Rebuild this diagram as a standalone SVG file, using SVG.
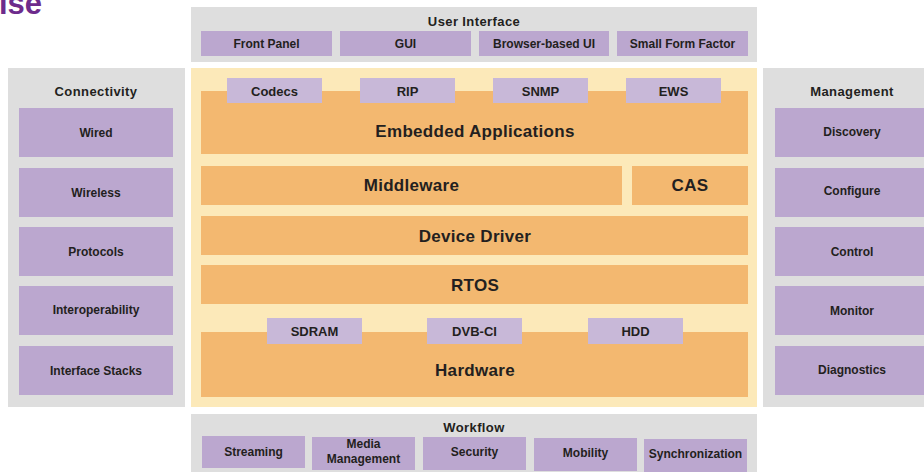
<svg xmlns="http://www.w3.org/2000/svg" width="924" height="472" viewBox="0 0 924 472">
<style>
text{font-family:"Liberation Sans",Arial,sans-serif;font-weight:bold;fill:#231f20;text-anchor:middle}
.panel{fill:#dedede}
.pb{fill:#bba7cf}
.pl{fill:#c8b8d8}
.or{fill:#f3b870}
.ye{fill:#fce9b9}
.h{font-size:13px;letter-spacing:0.4px}
.s{font-size:12px}
.m{font-size:13px}
.l{font-size:17px;letter-spacing:0.3px}
</style>
<text x="-1" y="14" style="font-size:31px;fill:#6d2b8c;text-anchor:start">ise</text>

<g id="user-interface">
<rect class="panel" x="191" y="7" width="566" height="55"/>
<text class="h" x="474" y="26">User Interface</text>
<g id="front-panel"><rect class="pb" x="201" y="31" width="131" height="25"/><text class="s" x="266.5" y="48">Front Panel</text></g>
<g id="gui"><rect class="pb" x="340" y="31" width="131" height="25"/><text class="s" x="405.5" y="48">GUI</text></g>
<g id="browser-ui"><rect class="pb" x="479" y="31" width="130" height="25"/><text class="s" x="544" y="48">Browser-based UI</text></g>
<g id="small-form-factor"><rect class="pb" x="617" y="31" width="131" height="25"/><text class="s" x="682.5" y="48">Small Form Factor</text></g>
</g>

<g id="core">
<rect class="ye" x="191" y="68" width="566" height="339"/>
<g id="embedded-applications"><rect class="or" x="201" y="91" width="547" height="63"/><text class="l" x="475" y="137">Embedded Applications</text></g>
<g id="codecs"><rect class="pl" x="227" y="78" width="95" height="25"/><text class="m" x="274.5" y="96">Codecs</text></g>
<g id="rip"><rect class="pl" x="360" y="78" width="95" height="25"/><text class="m" x="407.5" y="96">RIP</text></g>
<g id="snmp"><rect class="pl" x="493" y="78" width="95" height="25"/><text class="m" x="540.5" y="96">SNMP</text></g>
<g id="ews"><rect class="pl" x="626" y="78" width="95" height="25"/><text class="m" x="673.5" y="96">EWS</text></g>
<g id="middleware"><rect class="or" x="201" y="166" width="421" height="39"/><text class="l" x="411.5" y="191">Middleware</text></g>
<g id="cas"><rect class="or" x="632" y="166" width="116" height="39"/><text class="l" x="690" y="191">CAS</text></g>
<g id="device-driver"><rect class="or" x="201" y="216" width="547" height="39"/><text class="l" x="475" y="242">Device Driver</text></g>
<g id="rtos"><rect class="or" x="201" y="265" width="547" height="39"/><text class="l" x="475" y="291">RTOS</text></g>
<g id="hardware"><rect class="or" x="201" y="332" width="547" height="65"/><text class="l" x="475" y="376">Hardware</text></g>
<g id="sdram"><rect class="pl" x="267" y="318" width="95" height="26"/><text class="m" x="314.5" y="336">SDRAM</text></g>
<g id="dvb-ci"><rect class="pl" x="427" y="318" width="95" height="26"/><text class="m" x="474.5" y="336">DVB-CI</text></g>
<g id="hdd"><rect class="pl" x="588" y="318" width="95" height="26"/><text class="m" x="635.5" y="336">HDD</text></g>
</g>

<g id="connectivity">
<rect class="panel" x="8" y="68" width="177" height="339"/>
<text class="h" x="96" y="96">Connectivity</text>
<g id="wired"><rect class="pb" x="19" y="108" width="154" height="49"/><text class="s" x="96" y="137">Wired</text></g>
<g id="wireless"><rect class="pb" x="19" y="168" width="154" height="49"/><text class="s" x="96" y="197">Wireless</text></g>
<g id="protocols"><rect class="pb" x="19" y="227" width="154" height="49"/><text class="s" x="96" y="256">Protocols</text></g>
<g id="interoperability"><rect class="pb" x="19" y="286" width="154" height="49"/><text class="s" x="96" y="314">Interoperability</text></g>
<g id="interface-stacks"><rect class="pb" x="19" y="346" width="154" height="49"/><text class="s" x="96" y="375">Interface Stacks</text></g>
</g>

<g id="management">
<rect class="panel" x="763" y="68" width="170" height="339"/>
<text class="h" x="852" y="96">Management</text>
<g id="discovery"><rect class="pb" x="775" y="108" width="154" height="49"/><text class="s" x="852" y="136">Discovery</text></g>
<g id="configure"><rect class="pb" x="775" y="168" width="154" height="49"/><text class="s" x="852" y="195">Configure</text></g>
<g id="control"><rect class="pb" x="775" y="227" width="154" height="49"/><text class="s" x="852" y="256">Control</text></g>
<g id="monitor"><rect class="pb" x="775" y="286" width="154" height="49"/><text class="s" x="852" y="315">Monitor</text></g>
<g id="diagnostics"><rect class="pb" x="775" y="346" width="154" height="49"/><text class="s" x="852" y="374">Diagnostics</text></g>
</g>

<g id="workflow">
<rect class="panel" x="191" y="414" width="566" height="60"/>
<text class="h" x="474" y="432">Workflow</text>
<g id="streaming"><rect class="pb" x="202" y="436" width="103" height="32"/><text class="s" x="253.5" y="456">Streaming</text></g>
<g id="media-management"><rect class="pb" x="312" y="437" width="103" height="33"/><text class="s" x="363.5" y="448">Media</text><text class="s" x="363.5" y="463">Management</text></g>
<g id="security"><rect class="pb" x="423" y="437" width="103" height="33"/><text class="s" x="474.5" y="456">Security</text></g>
<g id="mobility"><rect class="pb" x="534" y="438" width="103" height="33"/><text class="s" x="585.5" y="457">Mobility</text></g>
<g id="synchronization"><rect class="pb" x="644" y="439" width="103" height="34"/><text class="s" x="695.5" y="458">Synchronization</text></g>
</g>
<g id="connectors"/>
</svg>
